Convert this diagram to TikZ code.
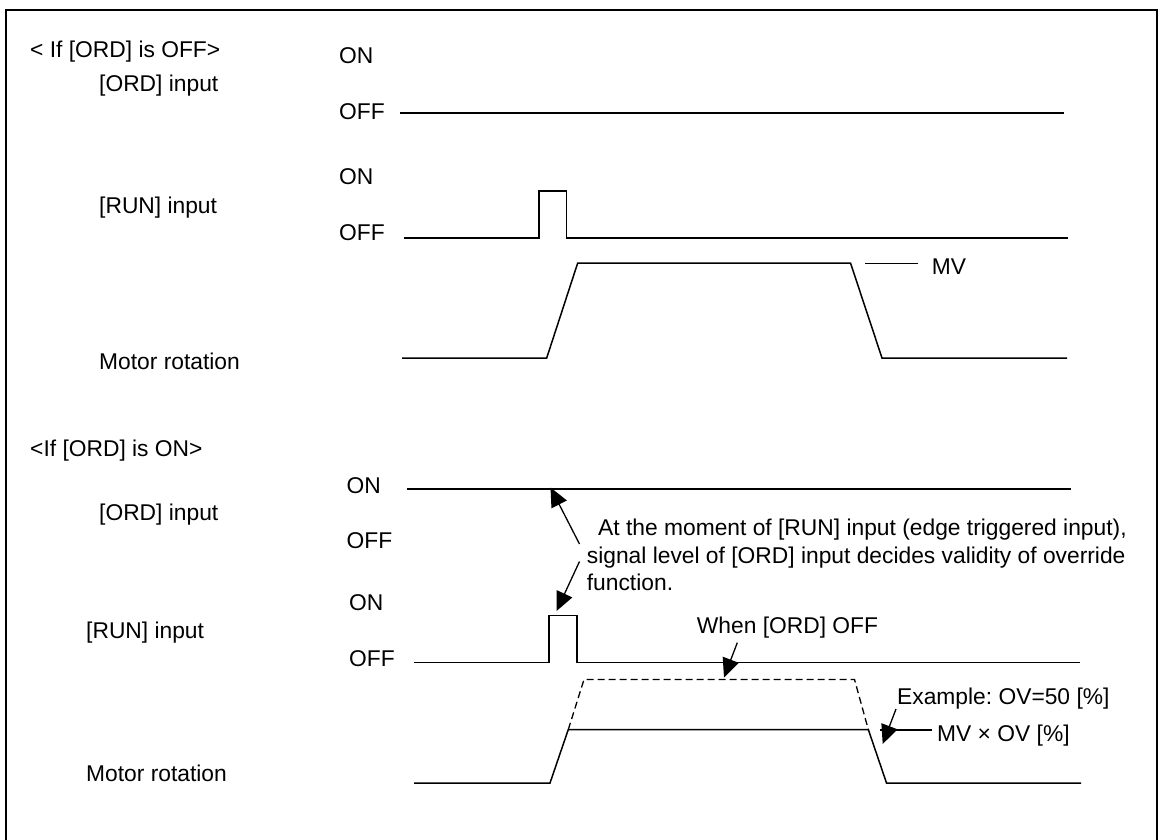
\documentclass[tikz,border=0pt]{standalone}
\usepackage{fontspec}
\setmainfont{Liberation Sans}
\usetikzlibrary{arrows.meta}
\frenchspacing
\begin{document}
\begin{tikzpicture}[x=1pt,y=-1pt,
  lbl/.style={anchor=base west,inner sep=0pt,font=\fontsize{22.8}{27.5}\selectfont},
  sig/.style={line width=1.5pt,line join=miter},
  leader/.style={line width=1.2pt},
  arr/.style={line width=1.3pt,-{Triangle[length=19pt,width=17pt]}},
  dashsig/.style={line width=1.3pt,dash pattern=on 7pt off 4pt},
]
\useasboundingbox (0,0) rectangle (1165,840);
\draw[line width=2pt] (5.7,10) rectangle (1157,850);

% ---------- upper part ----------
\node[lbl] (h1) at (30,57.5) {< If [ORD] is OFF>};
\node[lbl] (on1) at (339,64) {ON};
\node[lbl] (ord1) at (99,91.7) {[ORD] input};
\node[lbl] (off1) at (339,120) {OFF};
\node[lbl] (on2) at (339,185) {ON};
\node[lbl] (run1) at (99,213.3) {[RUN] input};
\node[lbl] (off2) at (339,240.7) {OFF};
\node[lbl] (mot1) at (99,369.3) {Motor rotation};
\node[lbl] (mv) at (931.7,274) {MV};

\coordinate (a1) at (400,113);
\coordinate (a2) at (1064,113);
\draw[sig] (a1) -- (a2);

\coordinate (b1) at (404,238);
\coordinate (b2) at (539,238);
\coordinate (b3) at (539,191);
\coordinate (b4) at (566.5,191);
\coordinate (b5) at (566.5,238);
\coordinate (b6) at (1068,238);
\draw[sig] (b1) -- (b2) -- (b3) -- (b4) -- (b5) -- (b6);

\coordinate (c1) at (402,358);
\coordinate (c2) at (546.7,358);
\coordinate (c3) at (577.7,263);
\coordinate (c4) at (850.5,263);
\coordinate (c5) at (882,358);
\coordinate (c6) at (1067,358);
\draw[sig] (c1) -- (c2) -- (c3) -- (c4) -- (c5) -- (c6);

\coordinate (m1) at (865,263.7);
\coordinate (m2) at (917.7,263.7);
\draw[leader] (m1) -- (m2);

% ---------- lower part ----------
\node[lbl] (h2) at (30,456) {<If [ORD] is ON>};
\node[lbl] (on3) at (346.4,493.3) {ON};
\node[lbl] (ord2) at (99,520.7) {[ORD] input};
\node[lbl] (off3) at (346.4,548.3) {OFF};
\node[lbl] (on4) at (349,610.7) {ON};
\node[lbl] (run2) at (86,638.3) {[RUN] input};
\node[lbl] (off4) at (349,666) {OFF};
\node[lbl] (mot2) at (86,781.7) {Motor rotation};

\node[lbl] (n1) at (598,535.5) {At the moment of [RUN] input (edge triggered input),};
\node[lbl] (n2) at (586.7,563) {signal level of [ORD] input decides validity of override};
\node[lbl] (n3) at (586.7,590.5) {function.};
\node[lbl] (n4) at (696.7,633) {When [ORD] OFF};
\node[lbl] (n5) at (897,704) {Example: OV=50 [\%]};
\node[lbl] (n6) at (937,741.7) {MV × OV [\%]};

\coordinate (d1) at (407,489);
\coordinate (d2) at (1071,489);
\draw[sig] (d1) -- (d2);

\coordinate (e1) at (414,662.5);
\coordinate (e2) at (549,662.5);
\coordinate (e3) at (549,615.7);
\coordinate (e4) at (577,615.7);
\coordinate (e5) at (577,662.5);
\coordinate (e6) at (1080,662.5);
\draw[sig] (e1) -- (e2) -- (e3) -- (e4) -- (e5) -- (e6);

\coordinate (f1) at (414,783);
\coordinate (f2) at (550,783);
\coordinate (f3) at (568.3,729.5);
\coordinate (f4) at (868.3,729.5);
\coordinate (f5) at (886.5,783);
\coordinate (f6) at (1081,783);
\draw[sig] (f1) -- (f2) -- (f3) -- (f4) -- (f5) -- (f6);

\coordinate (g1) at (584,679.5);
\coordinate (g2) at (854.5,679.5);
\draw[dashsig] (f3) -- (g1) -- (g2) -- (f4);

% arrows
\coordinate (p1) at (579.5,544);
\coordinate (q1) at (550.5,487.5);
\draw[arr] (p1) -- (q1);
\coordinate (p2) at (579.5,561.5);
\coordinate (q2) at (556.5,611);
\draw[arr] (p2) -- (q2);
\coordinate (p3) at (737.3,642.7);
\coordinate (q3) at (724,677.5);
\draw[arr] (p3) -- (q3);
\coordinate (p4) at (896,709);
\coordinate (q4) at (882.7,744);
\draw[arr] (p4) -- (q4);
\coordinate (r1) at (880,730);
\coordinate (r2) at (931.7,730);
\draw[leader] (r1) -- (r2);
\end{tikzpicture}
\end{document}
